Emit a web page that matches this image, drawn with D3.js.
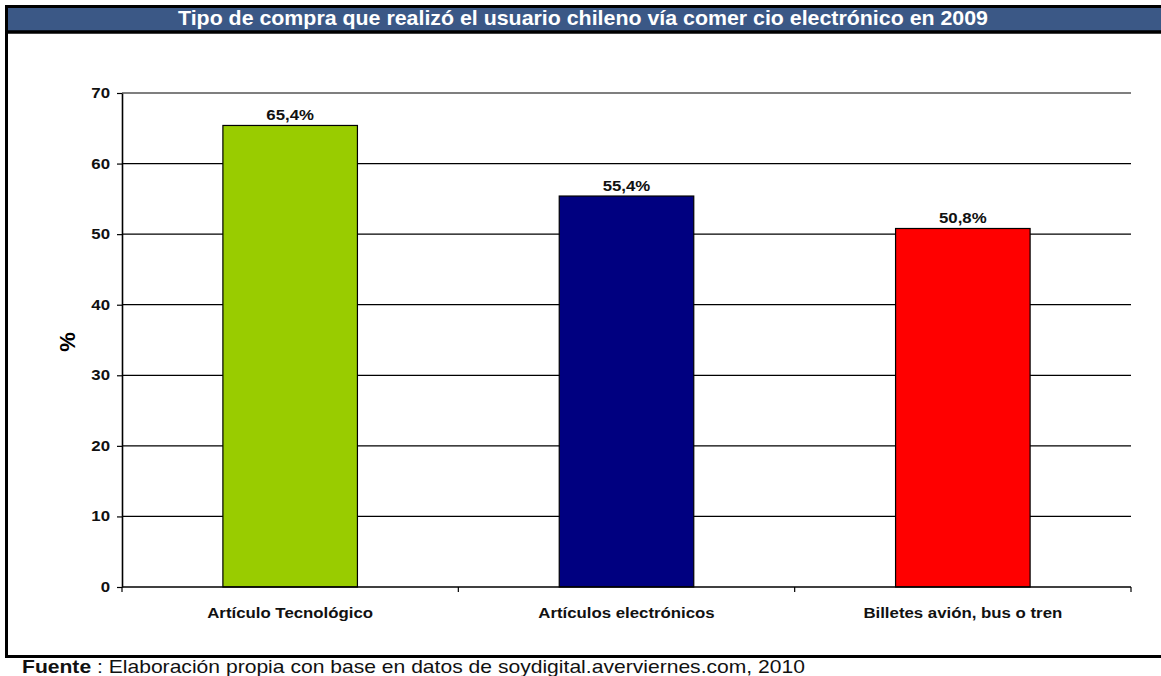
<!DOCTYPE html>
<html>
<head>
<meta charset="utf-8">
<script src="https://cdn.jsdelivr.net/npm/d3@7/dist/d3.min.js"></script>
<style>
  body { margin: 0; background: #fff; }
  svg { display: block; font-family: "Liberation Sans", Arial, sans-serif; }
</style>
</head>
<body>
<svg id="chart" width="1161" height="676"></svg>
<script>
var title = "Tipo de compra que realizó el usuario chileno vía comer cio electrónico en 2009";
var categories = ["Artículo Tecnológico", "Artículos electrónicos", "Billetes avión, bus o tren"];
var values = [65.4, 55.4, 50.8];
var labels = ["65,4%", "55,4%", "50,8%"];
var colors = ["#99cc00", "#000080", "#ff0000"];
var yTicks = [0, 10, 20, 30, 40, 50, 60, 70];
var yTitle = "%";
var sourceBold = "Fuente";
var sourceText = " : Elaboración propia con base en datos de soydigital.averviernes.com, 2010";

window.addEventListener("load", makeChart);

// the original picture is stretched a bit in width, so widen text the same way
function widen(sel, k) {
    sel.each(function() {
        this.setAttribute("textLength", this.getComputedTextLength() * k);
        this.setAttribute("lengthAdjust", "spacingAndGlyphs");
    });
}

function makeChart() {
    var svg = d3.select("#chart");

    var left = 122, right = 1131, top = 93, bottom = 587;

    var x = d3.scaleBand().domain(categories).range([left, right])
        .paddingInner(0.6).paddingOuter(0.3);
    var y = d3.scaleLinear().domain([0, 70]).range([bottom, top]);

    // frame and title band
    svg.append("rect").attr("x", 6.5).attr("y", 6.5).attr("width", 1170).attr("height", 650)
        .attr("fill", "none").attr("stroke", "#000").attr("stroke-width", 3);
    svg.append("rect").attr("x", 8).attr("y", 8).attr("width", 1153).attr("height", 23)
        .attr("fill", "#3b5886");
    svg.append("line").attr("x1", 5).attr("x2", 1161).attr("y1", 32).attr("y2", 32)
        .attr("stroke", "#000").attr("stroke-width", 3.5);
    svg.append("text").attr("x", 583).attr("y", 25)
        .attr("text-anchor", "middle").attr("fill", "#fff")
        .attr("font-size", 21).attr("font-weight", "bold")
        .attr("textLength", 810).attr("lengthAdjust", "spacingAndGlyphs")
        .text(title);

    // gridlines
    svg.append("g").selectAll("line").data(yTicks.filter(d => d > 0)).enter().append("line")
        .attr("x1", left).attr("x2", right)
        .attr("y1", d => y(d)).attr("y2", d => y(d))
        .attr("stroke", "#000").attr("stroke-width", 1.2);

    // bars
    svg.append("g").selectAll("rect").data(values).enter().append("rect")
        .attr("x", (d, i) => x(categories[i]))
        .attr("width", x.bandwidth())
        .attr("y", d => y(d))
        .attr("height", d => y(0) - y(d))
        .attr("fill", (d, i) => colors[i])
        .attr("stroke", "#000").attr("stroke-width", 1.2);

    // value labels
    svg.append("g").selectAll("text").data(values).enter().append("text")
        .attr("x", (d, i) => x(categories[i]) + x.bandwidth() / 2)
        .attr("y", d => y(d) - 5)
        .attr("text-anchor", "middle").attr("font-size", 14).attr("font-weight", "bold")
        .attr("fill", "#111")
        .text((d, i) => labels[i])
        .call(widen, 1.2);

    // y axis
    var yAxis = svg.append("g").attr("transform", "translate(" + left + ",0)")
        .call(d3.axisLeft(y).tickValues(yTicks).tickSize(5).tickSizeOuter(0).tickPadding(7));
    yAxis.select(".domain").attr("stroke", "#000").attr("stroke-width", 1.6);
    yAxis.selectAll(".tick line").attr("stroke", "#000").attr("stroke-width", 1.2);
    yAxis.selectAll(".tick text").attr("font-family", "Liberation Sans, Arial, sans-serif")
        .attr("font-size", 14).attr("font-weight", "bold").attr("fill", "#111")
        .call(widen, 1.2);

    // x axis with ticks between categories
    var bounds = d3.range(categories.length + 1).map(i => left + i * x.step());
    svg.append("line").attr("x1", left).attr("x2", right).attr("y1", bottom).attr("y2", bottom)
        .attr("stroke", "#000").attr("stroke-width", 1.6);
    svg.append("g").selectAll("line").data(bounds).enter().append("line")
        .attr("x1", d => d).attr("x2", d => d)
        .attr("y1", bottom).attr("y2", bottom + 5)
        .attr("stroke", "#000").attr("stroke-width", 1.2);
    svg.append("g").selectAll("text").data(categories).enter().append("text")
        .attr("x", d => x(d) + x.bandwidth() / 2)
        .attr("y", 618)
        .attr("text-anchor", "middle").attr("font-size", 14).attr("font-weight", "bold")
        .attr("fill", "#111")
        .text(d => d)
        .call(widen, 1.2);

    // y title
    svg.append("text").attr("transform", "translate(75,342) rotate(-90)")
        .attr("text-anchor", "middle").attr("font-size", 22).attr("font-weight", "bold")
        .text(yTitle);

    // source
    var src = svg.append("text").attr("x", 22).attr("y", 673).attr("font-size", 18.5).attr("fill", "#111")
        .attr("textLength", 783).attr("lengthAdjust", "spacingAndGlyphs");
    src.append("tspan").attr("font-weight", "bold").text(sourceBold);
    src.append("tspan").text(sourceText);
}
</script>
</body>
</html>
